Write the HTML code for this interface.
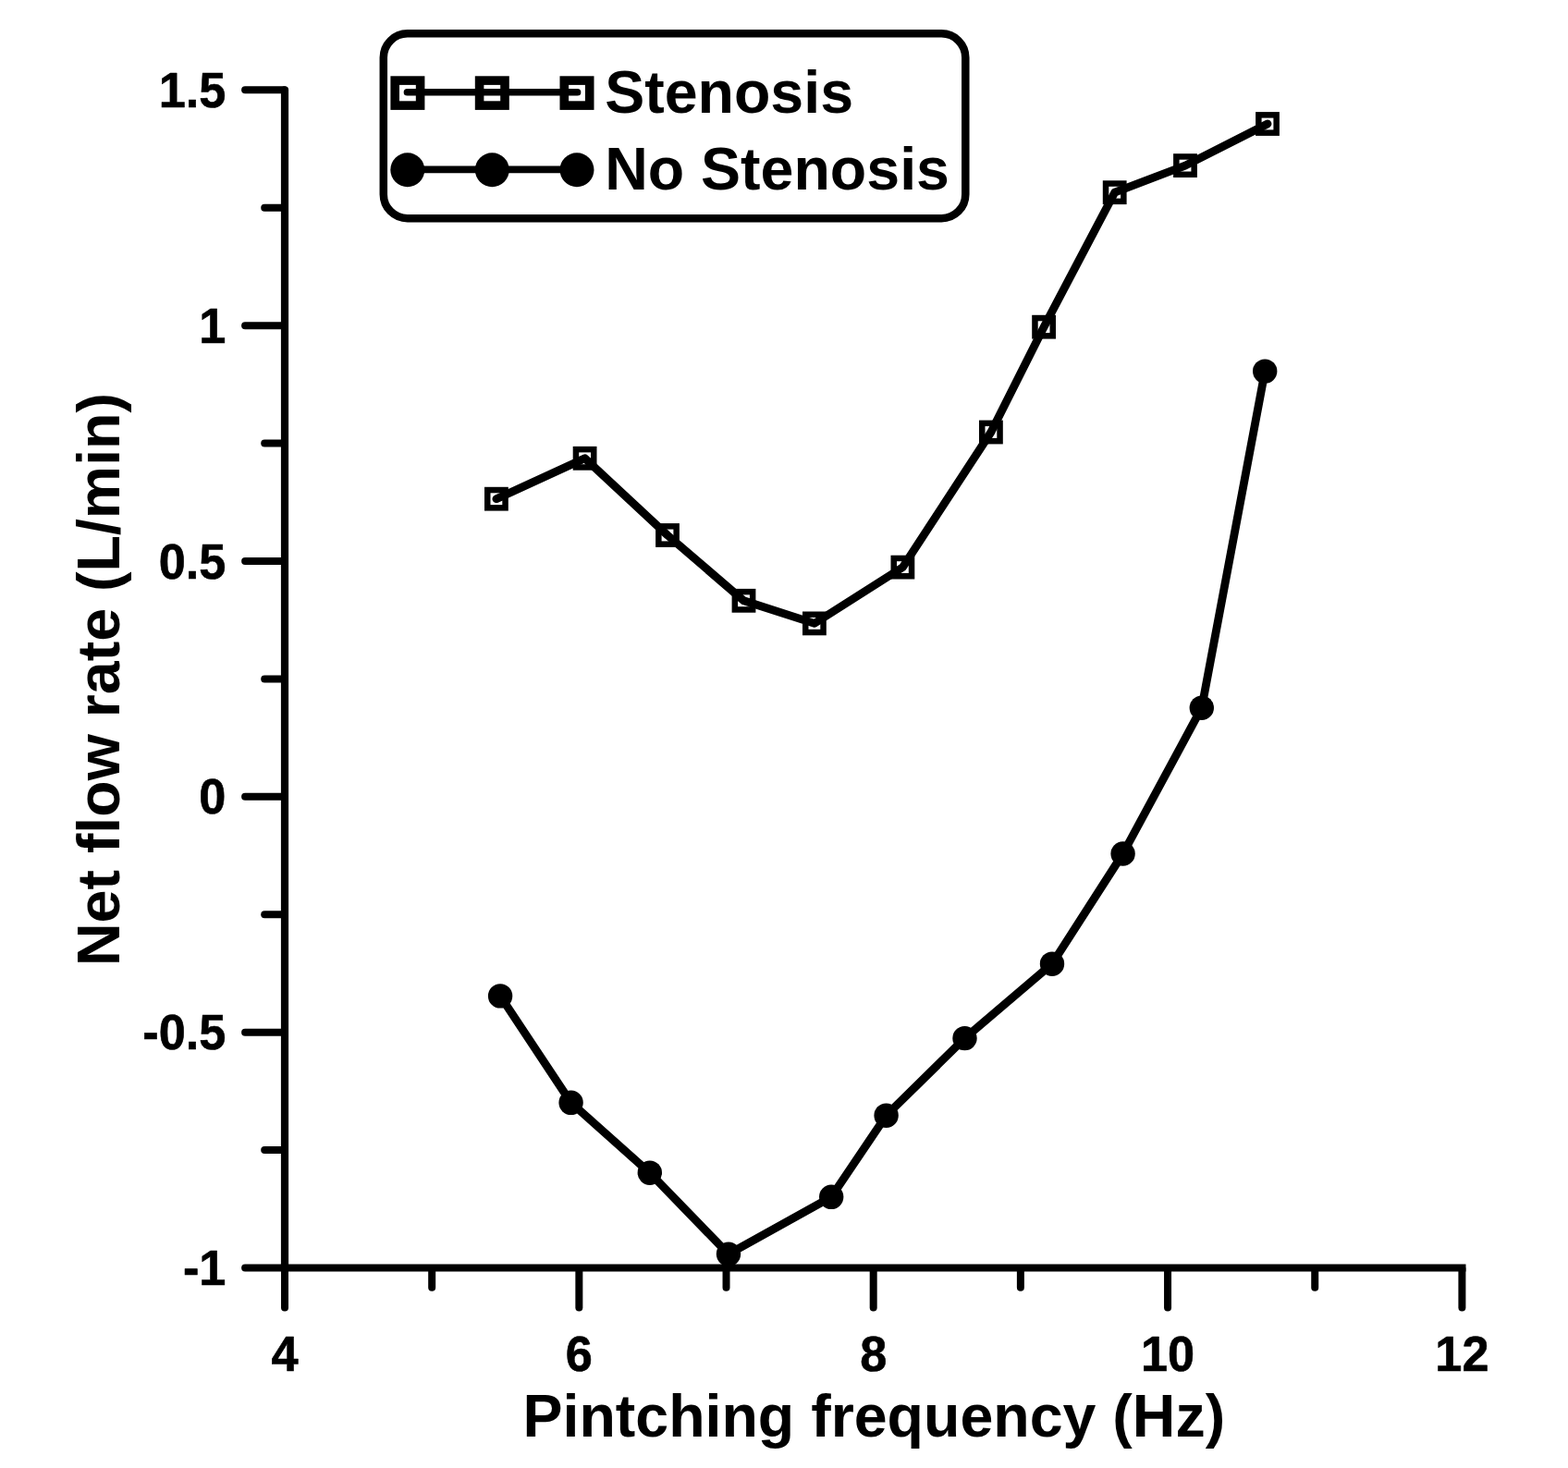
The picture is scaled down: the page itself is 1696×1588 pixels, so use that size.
<!DOCTYPE html>
<html lang="en"><head><meta charset="utf-8"><title>Net flow rate vs pinching frequency</title>
<style>html,body{margin:0;padding:0;background:#fff}body{width:1696px;height:1588px;overflow:hidden}svg{display:block}text{font-family:"Liberation Sans",sans-serif;font-weight:bold;fill:#000}</style>
</head><body>
<svg width="1696" height="1588" viewBox="0 0 1696 1588">
<rect width="1696" height="1588" fill="#fff"/>
<g fill="none" stroke="#000" stroke-width="8.2">
<path stroke-linecap="round" d="M308 97.3 V1371.5"/>
<path stroke-linecap="square" d="M308 1371.5 H1581.4"/>
</g>
<g fill="none" stroke="#000" stroke-width="8" stroke-linecap="round">
<path d="M265.1 97.30 H307"/>
<path d="M286.2 224.72 H307"/>
<path d="M265.1 352.15 H307"/>
<path d="M286.2 479.57 H307"/>
<path d="M265.1 607.00 H307"/>
<path d="M286.2 734.42 H307"/>
<path d="M265.1 861.85 H307"/>
<path d="M286.2 989.27 H307"/>
<path d="M265.1 1116.70 H307"/>
<path d="M286.2 1244.12 H307"/>
<path d="M265.1 1371.55 H307"/>
<path d="M308.00 1372.5 V1414.5"/>
<path d="M467.18 1372.5 V1392.8"/>
<path d="M626.35 1372.5 V1414.5"/>
<path d="M785.53 1372.5 V1392.8"/>
<path d="M944.70 1372.5 V1414.5"/>
<path d="M1103.88 1372.5 V1392.8"/>
<path d="M1263.05 1372.5 V1414.5"/>
<path d="M1422.23 1372.5 V1392.8"/>
<path d="M1581.40 1372.5 V1414.5"/>
</g>
<g font-size="52.3" text-anchor="end" stroke="#000" stroke-width="0.6" stroke-linejoin="round">
<text transform="translate(244.4 115.90) scale(1 1.035)">1.5</text>
<text transform="translate(244.4 370.75) scale(1 1.035)">1</text>
<text transform="translate(244.4 625.60) scale(1 1.035)">0.5</text>
<text transform="translate(244.4 880.45) scale(1 1.035)">0</text>
<text transform="translate(244.4 1135.30) scale(1 1.035)">-0.5</text>
<text transform="translate(244.4 1390.15) scale(1 1.035)">-1</text>
</g>
<g font-size="52.3" text-anchor="middle" stroke="#000" stroke-width="0.6" stroke-linejoin="round">
<text transform="translate(308.00 1483.4) scale(1 1.035)">4</text>
<text transform="translate(626.35 1483.4) scale(1 1.035)">6</text>
<text transform="translate(944.70 1483.4) scale(1 1.035)">8</text>
<text transform="translate(1263.05 1483.4) scale(1 1.035)">10</text>
<text transform="translate(1581.40 1483.4) scale(1 1.035)">12</text>
</g>
<text x="945.3" y="1554.4" font-size="64.5" text-anchor="middle">Pintching frequency (Hz)</text>
<text transform="translate(129 735) rotate(-90)" font-size="64.5" text-anchor="middle">Net flow rate (L/min)</text>
<g fill="none" stroke="#000" stroke-width="8.8" stroke-linejoin="round" stroke-linecap="round">
<polyline points="536.9,539.7 632.6,495.8 722,579 804.5,649.8 880.9,674.4 976.4,613.6 1071.9,467.5 1129.1,353.7 1205.7,208.2 1282,179.1 1371,134"/>
<polyline points="541.1,1077.4 617.6,1192.8 702.8,1268.7 788,1356.6 899.2,1294.8 958.6,1206.7 1043.5,1123.1 1138,1042.7 1214.6,923.5 1299.8,765.7 1368.2,401.6"/>
</g>
<g fill="none" stroke="#000" stroke-width="6.5">
<rect x="527.25" y="530.05" width="19.3" height="19.3"/>
<rect x="622.95" y="486.15" width="19.3" height="19.3"/>
<rect x="712.35" y="569.35" width="19.3" height="19.3"/>
<rect x="794.85" y="640.15" width="19.3" height="19.3"/>
<rect x="871.25" y="664.75" width="19.3" height="19.3"/>
<rect x="966.75" y="603.95" width="19.3" height="19.3"/>
<rect x="1062.25" y="457.85" width="19.3" height="19.3"/>
<rect x="1119.45" y="344.05" width="19.3" height="19.3"/>
<rect x="1196.05" y="198.55" width="19.3" height="19.3"/>
<rect x="1272.35" y="169.45" width="19.3" height="19.3"/>
<rect x="1361.35" y="124.35" width="19.3" height="19.3"/>
</g>
<g fill="#000">
<circle cx="541.1" cy="1077.4" r="13.2"/>
<circle cx="617.6" cy="1192.8" r="13.2"/>
<circle cx="702.8" cy="1268.7" r="13.2"/>
<circle cx="788" cy="1356.6" r="13.2"/>
<circle cx="899.2" cy="1294.8" r="13.2"/>
<circle cx="958.6" cy="1206.7" r="13.2"/>
<circle cx="1043.5" cy="1123.1" r="13.2"/>
<circle cx="1138" cy="1042.7" r="13.2"/>
<circle cx="1214.6" cy="923.5" r="13.2"/>
<circle cx="1299.8" cy="765.7" r="13.2"/>
<circle cx="1368.2" cy="401.6" r="13.2"/>
</g>
<rect x="414.8" y="36.35" width="629.5" height="199.8" rx="26" ry="26" fill="none" stroke="#000" stroke-width="8.5"/>
<g fill="none" stroke="#000" stroke-width="7.7" stroke-linecap="round">
<path d="M440.5 99.75 H624.5"/>
<path d="M440.5 183.45 H624.5"/>
</g>
<g fill="none" stroke="#000" stroke-width="9.6">
<rect x="427.20" y="87.10" width="27.4" height="27"/>
<rect x="518.60" y="87.10" width="27.4" height="27"/>
<rect x="610.30" y="87.10" width="27.4" height="27"/>
</g>
<g fill="#000">
<circle cx="440.8" cy="183.75" r="18.5"/>
<circle cx="532.3" cy="183.75" r="18.5"/>
<circle cx="624" cy="183.75" r="18.5"/>
</g>
<text x="654.2" y="122" font-size="64.5">Stenosis</text>
<text x="654.2" y="205" font-size="64.5">No Stenosis</text>
</svg>
</body></html>
